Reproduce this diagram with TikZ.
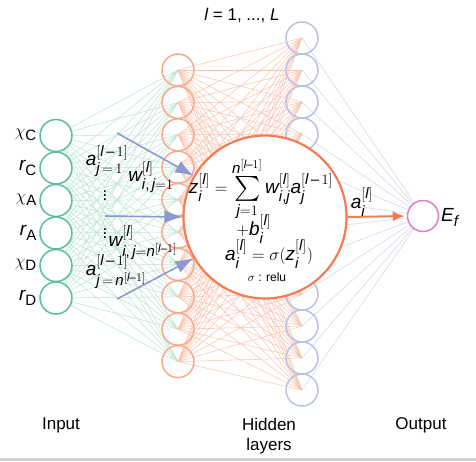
\documentclass[tikz,border=0pt]{standalone}
\usepackage{exscale}
\usepackage{fontspec}
\setmainfont{Liberation Sans}
\usepackage[italic]{mathastext}
\usetikzlibrary{arrows.meta}
\DeclareMathSizes{19}{19}{15}{11.5}
\DeclareMathSizes{18}{18}{14}{11}
\DeclareMathSizes{17}{17}{13}{10}

\definecolor{ingreen}{HTML}{5CBF97}
\definecolor{ingreenl}{HTML}{B8E3D1}
\definecolor{hidorange}{HTML}{F8A98D}
\definecolor{hidorangel}{HTML}{F9C2AD}
\definecolor{hidblue}{HTML}{BAC2E1}
\definecolor{hidbluel}{HTML}{D3D8EE}
\definecolor{outpink}{HTML}{E27BC1}
\definecolor{bigorange}{HTML}{F47C53}
\definecolor{arrblue}{HTML}{8A99CF}

\newcommand{\bigsum}{\mathop{\vcenter{\hbox{\fontsize{23}{23}\selectfont$\sum$}}}\limits}

\tikzset{
  neuron/.style={circle,inner sep=0pt,minimum size=32pt,line width=1.5pt},
  lbl/.style={font=\fontsize{17}{20}\selectfont,inner sep=1pt},
  eqn/.style={font=\fontsize{19}{22}\selectfont,inner sep=1pt},
  bigarr/.style={line width=1.6pt,arrblue,-{Latex[length=18pt,width=13pt]}}
}

\begin{document}
\begin{tikzpicture}[x=1pt,y=-1pt]
\useasboundingbox (0,0) rectangle (476,461);
\fill[gray!35] (0,458) rectangle (476,461);

% Layer positions
\foreach \i in {1,...,6} \coordinate (g\i) at (56,{135.5+32.5*(\i-1)});
\foreach \i in {1,...,10} \coordinate (o\i) at (178,{70+32.4*(\i-1)});
\foreach \i in {1,...,12} \coordinate (b\i) at (302,{38+32*(\i-1)});
\coordinate (E) at (423,216);

% Connections
\foreach \i in {1,...,6}
  \foreach \j in {1,...,10}
    \draw[ingreenl,line width=0.5pt] (g\i) -- (o\j);
\foreach \i in {1,...,10}
  \foreach \j in {1,...,12}
    \draw[hidorangel,line width=0.5pt] (o\i) -- (b\j);
\foreach \j in {1,...,12}
  \draw[hidbluel,line width=0.6pt] (b\j) -- (E);

% Neurons
\foreach \i in {1,...,6} \node[neuron,draw=ingreen,fill=white] (gn\i) at (g\i) {};
\foreach \i in {1,...,10} \node[neuron,draw=hidorange] (on\i) at (o\i) {};
\foreach \i in {1,...,12} \node[neuron,draw=hidblue] (bn\i) at (b\i) {};
\node[neuron,draw=outpink,fill=white,minimum size=31pt] (out) at (E) {};

% Zoomed neuron
\node[circle,draw=bigorange,fill=white,line width=2.2pt,minimum size=163pt] (big) at (265,217) {};
\node[eqn] (sumeq) at (261,189) {$z_i^{[l]} = \bigsum_{j=1}^{n^{[l-1]}} w_{i,j}^{[l]}a_j^{[l\,-\,1]}$};
\node[eqn] (bias) at (254,229) {$+b_i^{[l]}$};
\node[eqn] (act) at (269,254) {$a_i^{[l]} = \sigma(z_i^{[l]})$};
\node[lbl,font=\fontsize{12}{14}\selectfont] (relu) at (267,277) {$\sigma$ : relu};

% Input labels
\node[eqn,anchor=east] (xc) at (38,135) {$\chi_\mathrm{C}$};
\node[eqn,anchor=east] (rc) at (38,168) {$r_\mathrm{C}$};
\node[eqn,anchor=east] (xa) at (38,200) {$\chi_\mathrm{A}$};
\node[eqn,anchor=east] (ra) at (38,233) {$r_\mathrm{A}$};
\node[eqn,anchor=east] (xd) at (38,265) {$\chi_\mathrm{D}$};
\node[eqn,anchor=east] (rd) at (38,298) {$r_\mathrm{D}$};

% Weights and activations
\coordinate (w1s) at (117,133);
\coordinate (w2s) at (105,216);
\coordinate (w3s) at (117,299);
\draw[bigarr] (w1s) -- (big.150);
\draw[bigarr] (w2s) -- (big.180);
\draw[bigarr] (w3s) -- (big.210);
\node[eqn] (a1) at (107,161) {$a_{j\,=\,1}^{[l\,-\,1]}$};
\node[eqn] (wf) at (151,177) {$w_{i,\,j=1}^{[l]}$};
\node[lbl] (dots1) at (105,193) {$\vdots$};
\node[lbl] (dots2) at (105,231) {$\vdots$};
\node[eqn] (wl) at (143,243) {$w_{i,\,j=n^{[l-1]}}^{[l]}$};
\node[eqn] (an) at (116,272) {$a_{j\,=\,n^{[l-1]}}^{[l\,-\,1]}$};

% Output
\draw[bigorange,line width=2pt,-{Latex[length=12pt,width=10pt]},shorten >=2pt] (big.east) -- (out.west);
\node[eqn] (ai) at (362,202) {$a_i^{[l]}$};
\node[eqn,anchor=west] (ef) at (440,217) {$E_f$};

% Layer titles
\node[lbl] (layers) at (242,15) {$l$ = 1, ..., $L$};
\node[lbl] (inp) at (61,425) {Input};
\node[lbl,align=center] (hid) at (269,436) {Hidden\\layers};
\node[lbl] (outp) at (421,425) {Output};
\end{tikzpicture}
\end{document}
